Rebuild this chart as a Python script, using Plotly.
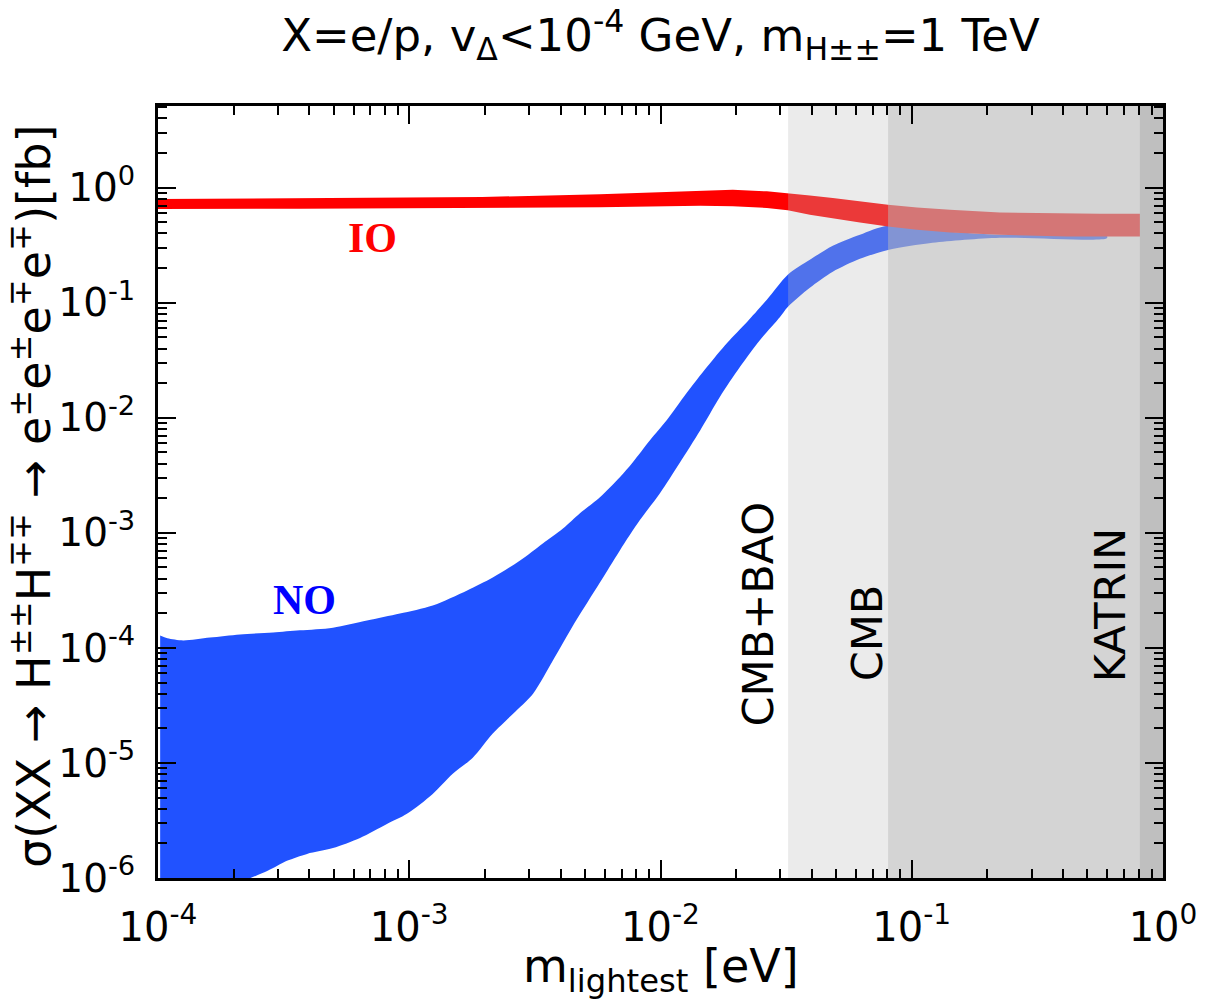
import plotly.graph_objects as go

# NO band (blue scatter cloud): upper and lower edges
no_up_m = [1.02e-4, 1.09e-4, 1.26e-4, 1.61e-4, 2.12e-4, 2.87e-4, 3.67e-4, 4.97e-4,
           6.79e-4, 9.18e-4, 1.24e-3, 1.70e-3, 2.15e-3, 2.76e-3, 3.40e-3, 4.09e-3,
           4.78e-3, 5.74e-3, 6.89e-3, 7.76e-3, 9.08e-3, 1.06e-2, 1.27e-2, 1.53e-2,
           1.84e-2, 2.21e-2, 2.65e-2, 3.21e-2, 3.93e-2, 4.85e-2, 6.22e-2, 8.04e-2,
           0.142, 0.224, 0.598]
no_upper = [1.28e-4, 1.21e-4, 1.16e-4, 1.23e-4, 1.31e-4, 1.36e-4, 1.42e-4, 1.50e-4,
            1.73e-4, 1.99e-4, 2.34e-4, 3.16e-4, 4.09e-4, 5.75e-4, 8.09e-4, 1.09e-3,
            1.48e-3, 2.04e-3, 3.04e-3, 4.11e-3, 6.38e-3, 9.55e-3, 1.64e-2, 2.76e-2,
            4.47e-2, 6.81e-2, 0.106, 0.175, 0.236, 0.313, 0.390, 0.467,
            0.414, 0.390, 0.382]

no_lo_m = [1.02e-4, 1.99e-4, 2.72e-4, 3.26e-4, 3.92e-4, 4.97e-4, 6.37e-4, 8.15e-4,
           9.79e-4, 1.24e-3, 1.49e-3, 1.79e-3, 2.15e-3, 2.59e-3, 3.11e-3, 3.73e-3,
           4.56e-3, 5.74e-3, 6.89e-3, 8.28e-3, 9.95e-3, 1.19e-2, 1.44e-2, 1.72e-2,
           2.07e-2, 2.49e-2, 2.99e-2, 3.21e-2, 3.93e-2, 4.85e-2, 6.22e-2, 8.04e-2,
           0.121, 0.224, 0.598]
no_lower = [9.0e-7, 9.0e-7, 1.15e-6, 1.41e-6, 1.62e-6, 1.82e-6, 2.23e-6, 2.95e-6,
            3.61e-6, 5.38e-6, 8.05e-6, 1.11e-5, 1.80e-5, 2.68e-5, 4.00e-5, 7.76e-5,
            1.66e-4, 3.71e-4, 7.04e-4, 1.29e-3, 2.21e-3, 4.03e-3, 7.81e-3, 1.51e-2,
            2.76e-2, 4.75e-2, 7.53e-2, 9.20e-2, 0.135, 0.186, 0.241, 0.288,
            0.332, 0.367, 0.363]

# IO band (red)
io_m = [1.0e-4, 3.67e-4, 1.95e-3, 5.74e-3, 1.44e-2, 1.94e-2, 2.65e-2, 3.21e-2,
        3.93e-2, 4.85e-2, 6.22e-2, 8.04e-2, 0.105, 0.142, 0.224, 0.414, 0.560, 1.0]
io_upper = [0.797, 0.810, 0.830, 0.878, 0.947, 0.961, 0.929, 0.899,
            0.857, 0.813, 0.760, 0.711, 0.674, 0.643, 0.609, 0.594, 0.594, 0.594]
io_lower = [0.652, 0.656, 0.666, 0.676, 0.697, 0.690, 0.666, 0.637,
            0.582, 0.545, 0.499, 0.460, 0.431, 0.408, 0.390, 0.377, 0.377, 0.377]

# excluded regions (lower bound on m_lightest)
bound_names = ["CMB+BAO", "CMB", "KATRIN"]
bound_m = [0.0322, 0.0805, 0.809]
bound_fill = ["rgba(190,190,190,0.3)", "rgba(187,187,187,0.48)", "#bfbfbf"]

x_ticks = [1e-4, 1e-3, 1e-2, 1e-1, 1]
x_ticktext = ["10<sup>-4</sup>", "10<sup>-3</sup>", "10<sup>-2</sup>", "10<sup>-1</sup>", "10<sup>0</sup>"]
y_ticks = [1e-6, 1e-5, 1e-4, 1e-3, 1e-2, 1e-1, 1]
y_ticktext = ["10<sup>-6</sup>", "10<sup>-5</sup>", "10<sup>-4</sup>", "10<sup>-3</sup>",
              "10<sup>-2</sup>", "10<sup>-1</sup>", "10<sup>0</sup>"]

x_max = 1.0
y_min, y_max = 1e-6, 10 ** 0.71

x_minor = [k * 10.0 ** d for d in range(-4, 0) for k in range(2, 10)]
y_minor = [k * 10.0 ** d for d in range(-6, 1) for k in range(2, 10) if k * 10.0 ** d < y_max]

font = "DejaVu Sans"

fig = go.Figure()

fig.add_trace(go.Scatter(
    x=no_up_m + no_lo_m[::-1], y=no_upper + no_lower[::-1],
    fill="toself", fillcolor="#2152ff", mode="lines",
    line=dict(width=0, shape="spline", smoothing=0.8),
    hoverinfo="skip", name="NO"))

fig.add_trace(go.Scatter(
    x=io_m + io_m[::-1], y=io_upper + io_lower[::-1],
    fill="toself", fillcolor="#ff0000", mode="lines", line=dict(width=0),
    hoverinfo="skip", name="IO"))

# shaded exclusions drawn over the points, as in the original
for name, b, col in zip(bound_names, bound_m, bound_fill):
    fig.add_trace(go.Scatter(
        x=[b, x_max, x_max, b, b], y=[y_min / 10, y_min / 10, y_max * 10, y_max * 10, y_min / 10],
        fill="toself", fillcolor=col, mode="lines", line=dict(width=0),
        hoverinfo="skip", name=name))

axis_style = dict(
    type="log", showline=True, linewidth=3, linecolor="black", mirror="ticks",
    ticks="inside", ticklen=18, tickwidth=2, tickcolor="black",
    showgrid=False, zeroline=False, tickmode="array", layer="above traces",
    minor=dict(ticks="inside", ticklen=9, tickwidth=2, tickcolor="black", showgrid=False),
)

fig.update_xaxes(axis_style, range=[-4, 0], tickvals=x_ticks, ticktext=x_ticktext,
                 minor_tickvals=x_minor, tickfont=dict(family=font, size=40, color="black"),
                 ticklabelstandoff=12)
fig.update_yaxes(axis_style, range=[-6, 0.71], tickvals=y_ticks, ticktext=y_ticktext,
                 minor_tickvals=y_minor, tickfont=dict(family=font, size=39, color="black"),
                 ticklabelstandoff=12)

serif = "Liberation Serif, Times New Roman, serif"
annotations = [
    dict(text="CMB+BAO", x=-1.612, y=-3.701, textangle=-90, font=dict(family=font, size=43)),
    dict(text="CMB", x=-1.179, y=-3.867, textangle=-90, font=dict(family=font, size=43)),
    dict(text="KATRIN", x=-0.212, y=-3.623, textangle=-90, font=dict(family=font, size=43)),
    dict(text="<b>IO</b>", x=-3.148, y=-0.435, font=dict(family=serif, size=42, color="#ff0000")),
    dict(text="<b>NO</b>", x=-3.415, y=-3.588, font=dict(family=serif, size=42, color="#0000ff")),
]
for a in annotations:
    a.update(xref="x", yref="y", showarrow=False, xanchor="center", yanchor="middle")
    a["font"].setdefault("color", "black")

annotations += [
    dict(text="m<sub>lightest</sub> [eV]", xref="paper", yref="paper",
         x=0.5, y=-0.119, xanchor="center", yanchor="middle", showarrow=False,
         font=dict(family=font, size=46, color="black")),
    dict(text="σ(XX → H<sup>±±</sup>H<sup>∓∓</sup> → e<sup>±</sup>e<sup>±</sup>e<sup>∓</sup>e<sup>∓</sup>)[fb]",
         xref="paper", yref="paper", x=-0.1264, y=0.495, xanchor="center", yanchor="middle",
         textangle=-90, showarrow=False, font=dict(family=font, size=46, color="black")),
]

fig.update_layout(
    width=1208, height=1004,
    margin=dict(l=158, r=45, t=106, b=126),
    paper_bgcolor="white", plot_bgcolor="white",
    showlegend=False,
    title=dict(text="X=e/p, v<sub>Δ</sub>&lt;10<sup>-4</sup> GeV, m<sub>H±±</sub>=1 TeV",
               x=0.5, xref="paper", xanchor="center", y=0.965, yref="container", yanchor="middle",
               font=dict(family=font, size=45, color="black")),
    annotations=annotations,
)

# drop the page's default body margin so the figure sits at the window's corner
fig.write_html("out.html", config={"displayModeBar": False},
               post_script="document.body.style.margin='0';")
